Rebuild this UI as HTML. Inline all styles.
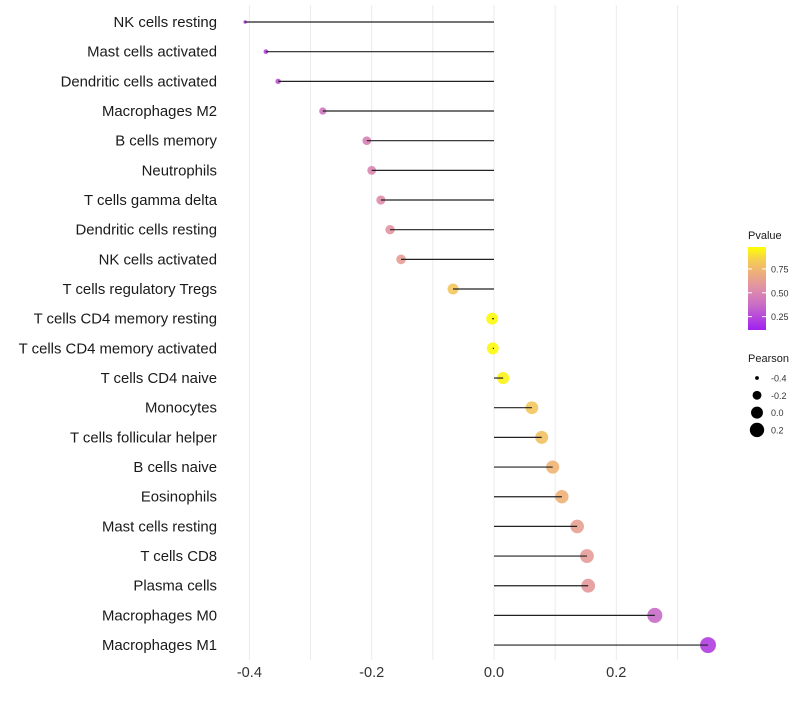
<!DOCTYPE html>
<html><head><meta charset="utf-8"><style>
body{margin:0;background:#fff;font-family:"Liberation Sans",sans-serif}
</style></head><body>
<svg id="chart" width="800" height="700" xmlns="http://www.w3.org/2000/svg">
<defs><linearGradient id="pg" x1="0" y1="1" x2="0" y2="0">
<stop offset="0" stop-color="#a020f0"/><stop offset="0.3" stop-color="#c86cc8"/><stop offset="0.5" stop-color="#e08fa8"/><stop offset="0.7" stop-color="#eeb078"/><stop offset="0.85" stop-color="#f5d050"/><stop offset="1" stop-color="#ffff00"/>
</linearGradient></defs>
<g id="grid"></g><g id="dots"></g><g id="marks"></g><g id="labels"></g><g id="legend"></g>
</svg>
<script>
const categories=["NK cells resting","Mast cells activated","Dendritic cells activated","Macrophages M2","B cells memory","Neutrophils","T cells gamma delta","Dendritic cells resting","NK cells activated","T cells regulatory  Tregs ","T cells CD4 memory resting","T cells CD4 memory activated","T cells CD4 naive","Monocytes","T cells follicular helper","B cells naive","Eosinophils","Mast cells resting","T cells CD8","Plasma cells","Macrophages M0","Macrophages M1"];
const pearson=[-0.407,-0.373,-0.353,-0.280,-0.208,-0.200,-0.185,-0.170,-0.152,-0.067,-0.003,-0.002,0.015,0.062,0.078,0.096,0.111,0.136,0.152,0.154,0.263,0.350];
const pvalue=[0.12,0.15,0.2,0.35,0.42,0.45,0.48,0.53,0.58,0.8,0.98,0.98,0.96,0.8,0.78,0.72,0.7,0.6,0.57,0.56,0.3,0.12];
const xTicks=[-0.4,-0.2,0.0,0.2];
const xTickLabels=["-0.4","-0.2","0.0","0.2"];
const sizeLegend=[-0.4,-0.2,0.0,0.2];
const pTicks=[0.25,0.5,0.75];
const NS="http://www.w3.org/2000/svg";
function X(v){return 494+v*611.5;}
function Y(i){return 22+i*29.67;}
function R(v){const a=Math.max(0,3+(v+0.407)*80);return Math.sqrt(a);}
const stops=[[0,[160,32,240]],[0.3,[200,108,200]],[0.5,[224,143,168]],[0.7,[238,176,120]],[0.85,[245,208,80]],[1,[255,255,0]]];
function col(p){p=Math.max(0,Math.min(1,p));for(let k=1;k<stops.length;k++){if(p<=stops[k][0]){const a=stops[k-1],b=stops[k];const u=(p-a[0])/(b[0]-a[0]);return`rgb(${[0,1,2].map(j=>Math.round(a[1][j]+(b[1][j]-a[1][j])*u)).join(',')})`;}}return'rgb(255,255,0)';}
function el(t,at,parent,txt){const e=document.createElementNS(NS,t);for(const k in at)e.setAttribute(k,at[k]);if(txt!==undefined)e.textContent=txt;parent.appendChild(e);return e;}
const grid=document.getElementById('grid'),dots=document.getElementById('dots'),marks=document.getElementById('marks'),labels=document.getElementById('labels'),leg=document.getElementById('legend');
for(let v=-0.4;v<=0.351;v+=0.1){const g=el('line',{x1:X(v),x2:X(v),y1:5,y2:660,stroke:'#ebebeb','stroke-width':1},grid);

}
categories.forEach((c,i)=>{
 const pt=el('circle',{cx:X(pearson[i]),cy:Y(i),r:R(pearson[i]),fill:col(pvalue[i]),'fill-opacity':0.9},dots);
 
 
 const ln=el('line',{x1:X(0),x2:X(pearson[i]),y1:Y(i),y2:Y(i),stroke:'#222','stroke-width':1.2},marks);
 
 
 const t=el('text',{x:217,y:Y(i)+5,'text-anchor':'end','font-size':14.9,fill:'#1a1a1a'},labels,c);
 
 
});
xTicks.forEach((v,i)=>{const t=el('text',{x:X(v),y:677,'text-anchor':'middle','font-size':14.6,fill:'#333'},labels,xTickLabels[i]);

});
const lt=el('text',{x:748,y:239,'font-size':11,fill:'#1a1a1a'},leg,'Pvalue');


const bar=el('rect',{x:748,y:247,width:18,height:83,fill:'url(#pg)'},leg);


function PY(p){return 330-(p-0.11)/0.87*83;}
pTicks.forEach(p=>{el('line',{x1:748,x2:752,y1:PY(p),y2:PY(p),stroke:'#fff'},leg);el('line',{x1:762,x2:766,y1:PY(p),y2:PY(p),stroke:'#fff'},leg);
const t=el('text',{x:771,y:PY(p)+3.5,'font-size':9,fill:'#333'},leg,p.toFixed(2));

});
const st=el('text',{x:748,y:362,'font-size':11,fill:'#1a1a1a'},leg,'Pearson');


sizeLegend.forEach((v,i)=>{const y=378+i*17.3;
const c=el('circle',{cx:757,cy:y,r:R(v),fill:'#000'},leg);


const t=el('text',{x:771,y:y+3.5,'font-size':9,fill:'#333'},leg,v.toFixed(1));

});
</script>
</body></html>
